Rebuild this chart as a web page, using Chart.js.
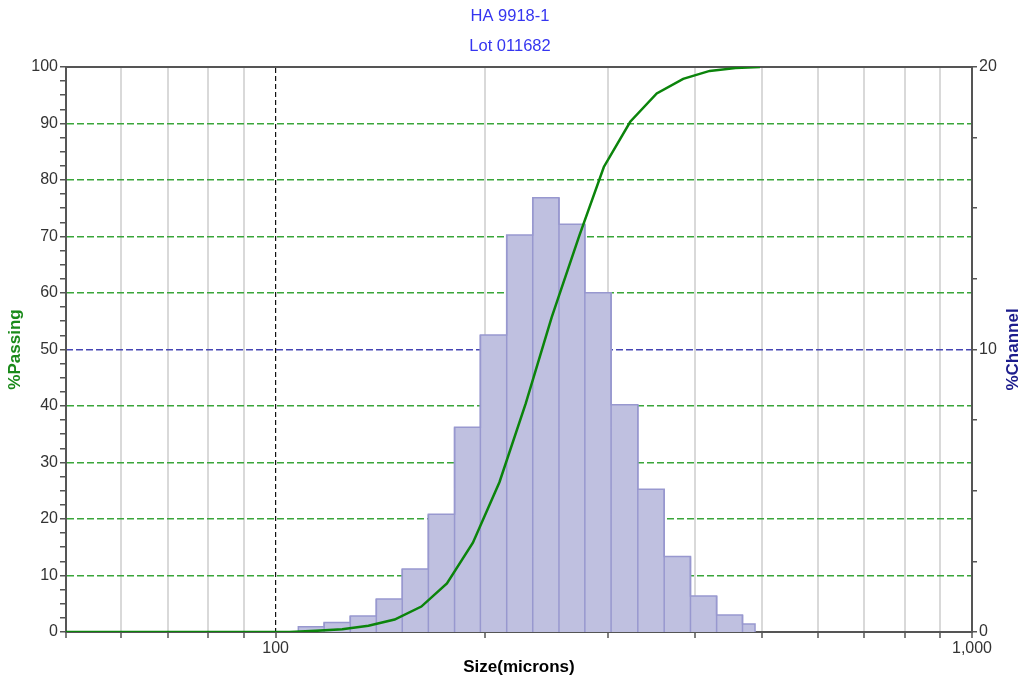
<!DOCTYPE html>
<html>
<head>
<meta charset="utf-8">
<script src="https://cdn.jsdelivr.net/npm/chart.js@4.4.1/dist/chart.umd.min.js"></script>
<style>
  html, body { margin: 0; padding: 0; background: #ffffff; }
  #wrap { width: 1020px; height: 683px; position: relative; }
</style>
</head>
<body>
<div id="wrap"><canvas id="chart"></canvas></div>
<script>
// ---- data ----
const titleLines = ['HA 9918-1', 'Lot 011682'];
const xAxisTitle = 'Size(microns)';
const leftAxisTitle = '%Passing';
const rightAxisTitle = '%Channel';

// cumulative %passing curve: sizes (microns) and values (%)
const cumSizes = [50, 104.7, 114.2, 124.6, 135.9, 148.2, 161.9, 176.2, 192.0, 209.6, 228.6, 249.1, 272.9, 296.0, 323.0, 352.6, 384.8, 420.0, 457.6, 496.0];
const cumPassing = [0, 0, 0.2, 0.5, 1.1, 2.2, 4.5, 8.6, 15.8, 26.5, 40.4, 55.7, 70.1, 82.3, 90.3, 95.3, 97.9, 99.3, 99.8, 100.0];

// histogram channels: bin edges (microns) and %channel per bin
const binEdges = [107.8, 117.4, 128.0, 139.5, 152.0, 165.7, 180.7, 196.8, 214.7, 234.0, 255.2, 278.0, 303.2, 331.2, 361.4, 394.2, 429.8, 468.2, 488.0];
const channelPct = [0.19, 0.34, 0.57, 1.17, 2.23, 4.17, 7.25, 10.51, 14.05, 15.37, 14.43, 12.01, 8.04, 5.05, 2.67, 1.27, 0.60, 0.28];

// axis ticks
const xTickValues = [50, 60, 70, 80, 90, 100, 200, 300, 400, 500, 600, 700, 800, 900, 1000];
const xTickLabels = { 100: '100', 1000: '1,000' };

// ---- build datasets from the arrays ----
const cumData = cumSizes.map((s, i) => ({ x: s, y: cumPassing[i] }));

const envData = [{ x: binEdges[0], y: 0 }];
channelPct.forEach((v, i) => envData.push({ x: binEdges[i], y: v }));
envData.push({ x: binEdges[binEdges.length - 1], y: 0 });

const divData = [];
for (let i = 1; i < channelPct.length; i++) {
  divData.push({ x: binEdges[i], y: 0 });
  divData.push({ x: binEdges[i], y: Math.max(channelPct[i - 1], channelPct[i]) });
  divData.push({ x: binEdges[i], y: null });
}

const FONT = "'Liberation Sans', Arial, Helvetica, sans-serif";
Chart.defaults.font.family = FONT;
Chart.defaults.font.size = 16;
Chart.defaults.color = '#333333';

const CLEAR = 'rgba(0,0,0,0)';

const rightTitlePlugin = {
  id: 'rightTitle',
  afterDraw(chart) {
    const s = chart.scales.yR;
    const ctx = chart.ctx;
    ctx.save();
    ctx.translate(s.right - 7, (chart.chartArea.top + chart.chartArea.bottom) / 2);
    ctx.rotate(-Math.PI / 2);
    ctx.font = "bold 17px " + FONT;
    ctx.fillStyle = '#1c1c8c';
    ctx.textAlign = 'center';
    ctx.textBaseline = 'middle';
    ctx.fillText(rightAxisTitle, 0, 0);
    ctx.restore();
  }
};

new Chart(document.getElementById('chart'), {
  type: 'line',
  data: {
    datasets: [
      {
        label: leftAxisTitle,
        data: cumData,
        xAxisID: 'x',
        yAxisID: 'y',
        borderColor: '#0b840b',
        borderWidth: 2.5,
        pointRadius: 0,
        tension: 0,
        fill: false,
        order: 0
      },
      {
        label: 'dividers',
        data: divData,
        xAxisID: 'x',
        yAxisID: 'yR',
        borderColor: '#9898cf',
        borderWidth: 1.5,
        pointRadius: 0,
        spanGaps: false,
        fill: false,
        order: 1
      },
      {
        label: rightAxisTitle,
        data: envData,
        xAxisID: 'x',
        yAxisID: 'yR',
        stepped: true,
        borderColor: '#9898cf',
        borderWidth: 1.5,
        backgroundColor: '#bfc0e0',
        pointRadius: 0,
        fill: 'origin',
        order: 2
      }
    ]
  },
  options: {
    responsive: true,
    maintainAspectRatio: false,
    devicePixelRatio: 1,
    animation: false,
    layout: { padding: 0 },
    plugins: {
      legend: { display: false },
      tooltip: { enabled: false },
      title: {
        display: true,
        text: titleLines,
        color: '#3535f0',
        font: { size: 16.5, weight: 'normal', lineHeight: 1.82 },
        padding: { top: 1.5, bottom: 5.4 }
      }
    },
    scales: {
      x: {
        type: 'logarithmic',
        position: 'bottom',
        min: 50,
        max: 1000,
        afterBuildTicks: s => { s.ticks = xTickValues.map(v => ({ value: v })); },
        afterFit: s => { s.height = 51; },
        ticks: {
          autoSkip: false,
          maxRotation: 0,
          padding: 1,
          color: '#333333',
          callback: v => xTickLabels[v] || ''
        },
        grid: {
          color: c => (c.tick && (c.tick.value === 50 || c.tick.value === 100 || c.tick.value === 1000)) ? CLEAR : '#d9d9d9',
          lineWidth: 2,
          tickColor: '#555555',
          tickLength: 6,
          tickWidth: 1.5
        },
        border: { color: '#555555', width: 2 },
        title: {
          display: true,
          text: xAxisTitle,
          color: '#000000',
          font: { size: 17, weight: 'bold', lineHeight: 1 },
          padding: { top: 0, bottom: 7 }
        }
      },
      x2: {
        type: 'logarithmic',
        position: 'top',
        min: 50,
        max: 1000,
        afterBuildTicks: s => { s.ticks = [{ value: 100 }]; },
        afterFit: s => { s.height = 0; },
        ticks: { display: false },
        grid: { color: '#111111', lineWidth: 1.2, drawTicks: false },
        border: { color: '#555555', width: 2, dash: [5, 3] }
      },
      y: {
        type: 'linear',
        position: 'left',
        min: 0,
        max: 100,
        afterFit: s => { s.width = 66; },
        ticks: {
          stepSize: 2.5,
          autoSkip: false,
          padding: 2,
          color: '#333333',
          callback: v => (v % 10 === 0 ? String(v) : '')
        },
        grid: {
          color: c => {
            const v = c.tick ? c.tick.value : -1;
            return (v % 10 === 0 && v > 0 && v < 100 && v !== 50) ? '#3aa63a' : CLEAR;
          },
          lineWidth: 1.5,
          tickColor: '#555555',
          tickLength: 6,
          tickWidth: 1.5
        },
        border: { color: '#555555', width: 2, dash: [7, 3] },
        title: {
          display: true,
          text: leftAxisTitle,
          color: '#1a8a1a',
          font: { size: 17, weight: 'bold', lineHeight: 1 },
          padding: { top: 7, bottom: 0 }
        }
      },
      yR: {
        type: 'linear',
        position: 'right',
        min: 0,
        max: 20,
        afterFit: s => { s.width = 48; },
        ticks: {
          stepSize: 2.5,
          autoSkip: false,
          padding: 2,
          color: '#333333',
          callback: v => (v % 10 === 0 ? String(v) : '')
        },
        grid: {
          color: c => (c.tick && c.tick.value === 10) ? '#4646b4' : CLEAR,
          lineWidth: 1.5,
          tickColor: '#555555',
          tickLength: 5,
          tickWidth: 1.5
        },
        border: { color: '#555555', width: 2, dash: [7, 3] },
        title: { display: false }
      }
    }
  },
  plugins: [rightTitlePlugin]
});
</script>
</body>
</html>
